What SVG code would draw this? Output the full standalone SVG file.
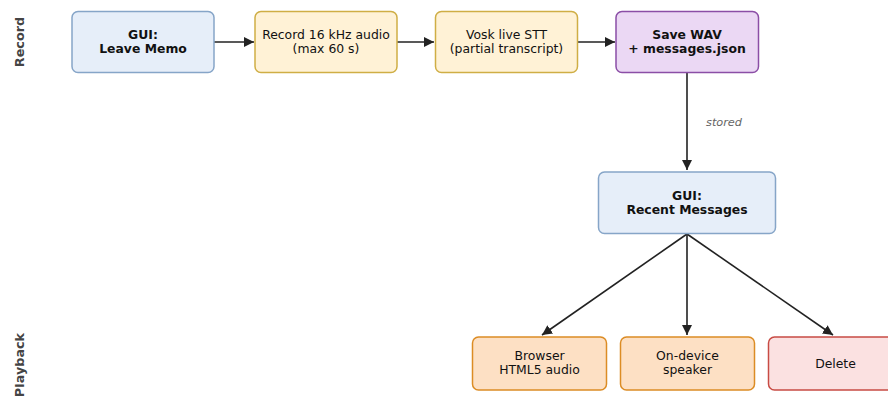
<svg xmlns="http://www.w3.org/2000/svg" width="888" height="398" viewBox="0 0 888 398">
<defs>
<marker id="ah" viewBox="0 0 10 10" refX="10" refY="5" markerWidth="10" markerHeight="10" markerUnits="userSpaceOnUse" orient="auto">
<path d="M0,0 L10,5 L0,10 z" fill="#222"/>
</marker>
<style>
text{font-family:"DejaVu Sans",sans-serif;font-size:12.4px;fill:#111;text-anchor:middle}
.b{font-weight:bold}
.lane{font-weight:bold;fill:#444;font-size:12.8px}
.blue{fill:#e6eef9;stroke:#86a5c8;stroke-width:1.5}
.yel{fill:#fff2d6;stroke:#cfae45;stroke-width:1.5}
.pur{fill:#ebd8f4;stroke:#8b4ea6;stroke-width:1.5}
.ora{fill:#fde0c4;stroke:#dc8c24;stroke-width:1.5}
.red{fill:#fbe1e1;stroke:#c84b44;stroke-width:1.5}
.c{stroke:#222;stroke-width:1.6;fill:none;marker-end:url(#ah)}
</style>
</defs>
<text class="lane" transform="translate(24,42) rotate(-90)">Record</text>
<text class="lane" transform="translate(24,365) rotate(-90)">Playback</text>
<g id="connectors">
<line class="c" x1="214" y1="42" x2="254" y2="42"/>
<line class="c" x1="397" y1="42" x2="434" y2="42"/>
<line class="c" x1="578" y1="42" x2="615" y2="42"/>
<line class="c" x1="687" y1="73" x2="687" y2="170"/>
<line class="c" x1="687" y1="234" x2="542" y2="335"/>
<line class="c" x1="687" y1="234" x2="687" y2="335"/>
<line class="c" x1="687" y1="234" x2="833" y2="335"/>
<text x="724" y="126" style="font-style:italic;fill:#666;font-size:11.3px">stored</text>
</g>
<g id="leave">
<rect class="blue" x="72" y="11.5" width="142" height="61" rx="6"/>
<text class="b" x="143" y="39">GUI:</text>
<text class="b" x="143" y="53">Leave Memo</text>
</g>
<g id="record">
<rect class="yel" x="255" y="11.5" width="142" height="61" rx="6"/>
<text x="326" y="39">Record 16 kHz audio</text>
<text x="326" y="53">(max 60 s)</text>
</g>
<g id="vosk">
<rect class="yel" x="435.5" y="11.5" width="142" height="61" rx="6"/>
<text x="506.5" y="39">Vosk live STT</text>
<text x="506.5" y="53">(partial transcript)</text>
</g>
<g id="save">
<rect class="pur" x="616" y="11.5" width="142.5" height="61" rx="6"/>
<text class="b" x="687" y="39">Save WAV</text>
<text class="b" x="687" y="53">+ messages.json</text>
</g>
<g id="recent">
<rect class="blue" x="598.5" y="172" width="177" height="61.5" rx="6"/>
<text class="b" x="687" y="200">GUI:</text>
<text class="b" x="687" y="214">Recent Messages</text>
</g>
<g id="browser">
<rect class="ora" x="472.5" y="337" width="134" height="53" rx="6"/>
<text x="539.5" y="360">Browser</text>
<text x="539.5" y="374">HTML5 audio</text>
</g>
<g id="speaker">
<rect class="ora" x="620.5" y="337" width="134" height="53" rx="6"/>
<text x="687.5" y="360">On-device</text>
<text x="687.5" y="374">speaker</text>
</g>
<g id="delete">
<rect class="red" x="768.5" y="337" width="134" height="53" rx="6"/>
<text x="835.5" y="368">Delete</text>
</g>
</svg>
